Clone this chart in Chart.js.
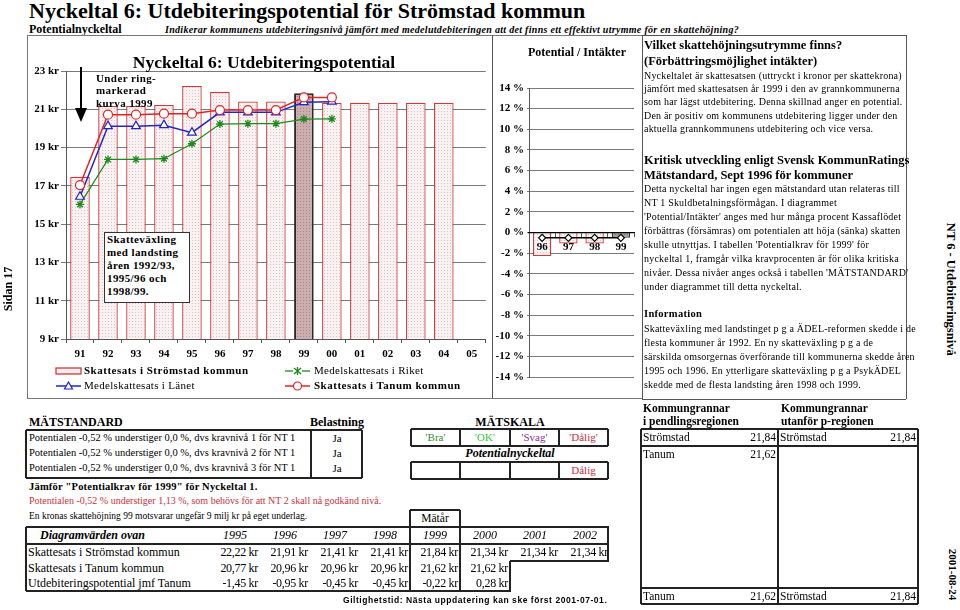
<!DOCTYPE html>
<html>
<head>
<meta charset="utf-8">
<script src="https://cdn.jsdelivr.net/npm/chart.js@4.4.1/dist/chart.umd.min.js"></script>
<style>
  body { margin: 0; width: 960px; height: 610px; position: relative; background: #fff; overflow: hidden;
         font-family: "Liberation Serif", "Times New Roman", serif; color: #000; }
  .t { position: absolute; white-space: nowrap; line-height: 1; }
  .ln { position: absolute; background: #000; }
  canvas { position: absolute; }
</style>
</head>
<body>
<canvas id="main" width="465" height="362" style="left:27px;top:36px"></canvas>
<canvas id="pot" width="148" height="362" style="left:492px;top:36px"></canvas>

<script>
// main chart: tax rate per year (kr per skattekrona)
const years = ['91', '92', '93', '94', '95', '96', '97', '98', '99', '00', '01', '02', '03', '04', '05'];
const markYear = '99';
const stromstad = [17.47, 21.17, 21.17, 21.22, 22.22, 21.91, 21.41, 21.41, 21.84, 21.34, 21.34, 21.34, 21.34, 21.34, null];
const tanum = [17.04, 20.72, 20.72, 20.77, 20.77, 20.96, 20.96, 20.96, 21.62, 21.62, null, null, null, null, null];
const lanet = [16.43, 20.12, 20.12, 20.17, 19.78, 20.84, 20.84, 20.84, 21.37, 21.40, null, null, null, null, null];
const riket = [16.03, 18.38, 18.38, 18.42, 19.20, 20.23, 20.25, 20.25, 20.49, 20.50, null, null, null, null, null];

// small chart: potential / intäkter (%)
const potYears = ['96', '97', '98', '99'];
const potValues = [-2.27, -1.07, -1.07, -0.52];
const potLevel = [-0.52, -0.52, -0.52, -0.52];

// table below the chart
const tableYears = ['1995', '1996', '1997', '1998', '1999', '2000', '2001', '2002'];

const SERIF = 'Liberation Serif';
const body = document.body;

function T(x, y, s, fs, css, align) {
  const d = document.createElement('div');
  d.className = 't';
  d.textContent = s;
  d.style.left = x + 'px';
  d.style.top = (y - 0.55 * fs) + 'px';
  d.style.fontSize = fs + 'px';
  if (css) d.style.cssText += css;
  if (align === 'r') d.style.transform = 'translateX(-100%)';
  if (align === 'c') d.style.transform = 'translateX(-50%)';
  body.appendChild(d);
  return d;
}
function L(x1, y1, x2, y2, w, c) {
  const d = document.createElement('div');
  d.className = 'ln';
  w = w || 1;
  if (y1 === y2) { d.style.left = x1 + 'px'; d.style.top = (y1 - w / 2) + 'px'; d.style.width = (x2 - x1) + 'px'; d.style.height = w + 'px'; }
  else { d.style.left = (x1 - w / 2) + 'px'; d.style.top = y1 + 'px'; d.style.width = w + 'px'; d.style.height = (y2 - y1) + 'px'; }
  if (c) d.style.background = c;
  body.appendChild(d);
}
function R(x1, y1, x2, y2, w, c) {
  L(x1, y1, x2, y1, w, c); L(x1, y2, x2, y2, w, c);
  L(x1, y1, x1, y2, w, c); L(x2, y1, x2, y2, w, c);
}
function kr(v) { return v.toFixed(2).replace('.', ',') + ' kr'; }

function dots(ctx, bg, fg) {
  const c = document.createElement('canvas');
  c.width = 3; c.height = 3;
  const g = c.getContext('2d');
  g.fillStyle = bg; g.fillRect(0, 0, 3, 3);
  g.fillStyle = fg; g.fillRect(0, 0, 1, 1);
  return ctx.createPattern(c, 'repeat');
}

const mainCtx = document.getElementById('main').getContext('2d');
const lightFill = dots(mainCtx, '#f8f2f2', '#dcc4c4');
const darkFill = dots(mainCtx, '#cdaeae', '#a98686');
const tickFont = { family: SERIF, size: 11, weight: 'bold' };

new Chart(mainCtx, {
  data: {
    labels: years,
    datasets: [
      {
        type: 'line', label: 'Skattesats i Tanum kommun', data: tanum, order: 1,
        borderColor: '#e02424', borderWidth: 1.5, pointStyle: 'circle', pointRadius: 4.5,
        pointBackgroundColor: '#fff', pointBorderColor: '#e02424', pointBorderWidth: 1.2
      },
      {
        type: 'line', label: 'Medelskattesats i Länet', data: lanet, order: 2,
        borderColor: '#2424c8', borderWidth: 1.5, pointStyle: 'triangle', pointRadius: 5,
        pointBackgroundColor: '#fff', pointBorderColor: '#2424c8', pointBorderWidth: 1.2
      },
      {
        type: 'line', label: 'Medelskattesats i Riket', data: riket, order: 3,
        borderColor: '#1c8a1c', borderWidth: 1.2, pointStyle: 'star', pointRadius: 4,
        pointBackgroundColor: '#fff', pointBorderColor: '#1c8a1c', pointBorderWidth: 1.3
      },
      {
        type: 'bar', label: 'Skattesats i Strömstad kommun', data: stromstad, order: 4,
        backgroundColor: c => years[c.dataIndex] === markYear ? darkFill : lightFill,
        borderColor: c => years[c.dataIndex] === markYear ? '#2a2a2a' : '#d23a3a',
        borderWidth: c => years[c.dataIndex] === markYear ? 2 : 1.3,
        barPercentage: 0.7, categoryPercentage: 1
      }
    ]
  },
  options: {
    responsive: false, animation: false,
    layout: { padding: { left: 0, right: 6, top: 35, bottom: 0 } },
    plugins: { legend: { display: false }, tooltip: { enabled: false } },
    scales: {
      x: {
        offset: true,
        grid: { drawOnChartArea: false, offset: true, tickLength: 4, color: '#555' },
        border: { color: '#555' },
        ticks: { color: '#000', font: tickFont, padding: 5, maxRotation: 0, autoSkip: false },
        afterFit: s => { s.height = 59; }
      },
      y: {
        min: 9, max: 23,
        grid: { color: '#7a7a7a', tickLength: 5 },
        border: { color: '#555' },
        ticks: { stepSize: 2, color: '#000', font: tickFont, padding: 2, callback: v => v + ' kr' },
        afterFit: s => { s.width = 39; }
      }
    }
  }
});

const potCtx = document.getElementById('pot').getContext('2d');
const potLight = dots(potCtx, '#f8f2f2', '#dcc4c4');
const potDark = dots(potCtx, '#a89c9c', '#857878');

new Chart(potCtx, {
  data: {
    labels: potYears,
    datasets: [
      {
        type: 'line', data: potLevel, order: 1,
        borderColor: '#000', borderWidth: 1.5, pointStyle: 'rectRot', pointRadius: 3.5,
        pointBackgroundColor: '#fff', pointBorderColor: '#000', pointBorderWidth: 1.2
      },
      {
        type: 'bar', data: potValues, order: 2,
        backgroundColor: c => potYears[c.dataIndex] === markYear ? potDark : potLight,
        borderColor: c => potYears[c.dataIndex] === markYear ? '#333' : '#d23a3a',
        borderWidth: 1.3, barPercentage: 0.7, categoryPercentage: 1
      }
    ]
  },
  options: {
    responsive: false, animation: false,
    layout: { padding: { left: 0, right: 6, top: 52, bottom: 21 } },
    plugins: { legend: { display: false }, tooltip: { enabled: false } },
    scales: {
      x: {
        position: { y: 0 }, offset: true,
        grid: { drawOnChartArea: false, offset: true, tickLength: 4, color: '#555' },
        border: { color: '#000', width: 1.2, z: 2 },
        ticks: { color: '#000', font: tickFont, padding: 4, maxRotation: 0, autoSkip: false, z: 2 }
      },
      y: {
        min: -14, max: 14,
        grid: { color: '#7a7a7a', tickLength: 2 },
        border: { color: '#555' },
        ticks: { stepSize: 2, color: '#000', font: tickFont, padding: 3, callback: v => v + ' %' },
        afterFit: s => { s.width = 37; }
      }
    }
  }
});

// ---- header
T(29, 12, 'Nyckeltal 6: Utdebiteringspotential för Strömstad kommun', 22, 'font-weight:bold');
T(29, 30, 'Potentialnyckeltal', 12, 'font-weight:bold');
T(165, 30, 'Indikerar kommunens utdebiteringsnivå jämfört med medelutdebiteringen att det finns ett effektivt utrymme för en skattehöjning?', 10, 'font-weight:bold;font-style:italic;letter-spacing:0.3px');

// frames
L(27, 35, 642, 35, 1, '#777');
L(27, 398, 642, 398, 1, '#777');
L(27, 35, 27, 398, 1, '#777');
L(492, 35, 492, 398, 1, '#555');
R(642, 35, 906, 399, 1, '#555');

// main chart overlays
T(264, 64, 'Nyckeltal 6: Utdebiteringspotential', 17.5, 'font-weight:bold', 'c');
const arrow = document.createElementNS('http://www.w3.org/2000/svg', 'svg');
arrow.setAttribute('width', '20'); arrow.setAttribute('height', '60');
arrow.style.cssText = 'position:absolute;left:71px;top:66px';
arrow.innerHTML = '<line x1="10" y1="1" x2="10" y2="44" stroke="#000" stroke-width="2"/><polygon points="4,42 16,42 10,56" fill="#000"/>';
body.appendChild(arrow);
['Under ring-', 'markerad', 'kurva 1999'].forEach((s, i) => T(96, 79 + i * 12.5, s, 11, 'font-weight:bold;letter-spacing:0.4px'));

const box = document.createElement('div');
box.style.cssText = 'position:absolute;left:104px;top:232px;width:86px;height:71px;background:#fff;border:1px solid #333;box-sizing:border-box';
body.appendChild(box);
['Skatteväxling', 'med landsting', 'åren 1992/93,', '1995/96 och', '1998/99.'].forEach((s, i) => T(107, 240 + i * 13, s, 11, 'font-weight:bold;letter-spacing:0.4px'));

// legend
function swatch(x, y, svg) {
  const e = document.createElementNS('http://www.w3.org/2000/svg', 'svg');
  e.setAttribute('width', '28'); e.setAttribute('height', '12');
  e.style.cssText = 'position:absolute;left:' + x + 'px;top:' + (y - 6) + 'px';
  e.innerHTML = svg;
  body.appendChild(e);
}
swatch(55, 371, '<rect x="1" y="3" width="25" height="6" fill="#f4eded" stroke="#d23a3a" stroke-width="1.3"/>');
T(84, 371, 'Skattesats i Strömstad kommun', 11, 'font-weight:bold;letter-spacing:0.5px');
swatch(55, 386, '<line x1="1" y1="6" x2="26" y2="6" stroke="#2424c8" stroke-width="1.5"/><polygon points="13.5,2 17.5,9 9.5,9" fill="#fff" stroke="#2424c8" stroke-width="1.2"/>');
T(84, 386, 'Medelskattesats i Länet', 11, 'letter-spacing:0.3px');
swatch(284, 371, '<line x1="1" y1="6" x2="26" y2="6" stroke="#1c8a1c" stroke-width="1.3"/><rect x="9" y="2" width="9" height="8" fill="#fff"/><path d="M10 3 L17 9 M17 3 L10 9 M13.5 2 L13.5 10" stroke="#1c8a1c" stroke-width="1.3"/>');
T(314, 371, 'Medelskattesats i Riket', 11, 'letter-spacing:0.3px');
swatch(284, 386, '<line x1="1" y1="6" x2="26" y2="6" stroke="#e02424" stroke-width="1.5"/><circle cx="13.5" cy="6" r="4" fill="#fff" stroke="#e02424" stroke-width="1.2"/>');
T(314, 386, 'Skattesats i Tanum kommun', 11, 'font-weight:bold;letter-spacing:0.5px');

// small chart title
T(577, 53, 'Potential / Intäkter', 12, 'font-weight:bold', 'c');

// ---- right text box
const tb = 'font-weight:bold';
const para = 'letter-spacing:0.2px';
T(644, 46, 'Vilket skattehöjningsutrymme finns?', 12.5, tb);
T(644, 62, '(Förbättringsmöjlighet intäkter)', 12.5, tb);
['Nyckeltalet är skattesatsen (uttryckt i kronor per skattekrona)',
 'jämfört med skattesatsen år 1999 i den av grannkommunerna',
 'som har lägst utdebitering. Denna skillnad anger en potential.',
 'Den är positiv om kommunens utdebitering ligger under den',
 'aktuella grannkommunens utdebitering och vice versa.'
].forEach((s, i) => T(644, 76 + i * 13.4, s, 10, para));
T(644, 161, 'Kritisk utveckling enligt Svensk KommunRatings', 12.5, tb);
T(644, 176, 'Mätstandard, Sept 1996 för kommuner', 12.5, tb);
['Detta nyckeltal har ingen egen mätstandard utan relateras till',
 'NT 1 Skuldbetalningsförmågan. I diagrammet',
 '\'Potential/Intäkter\' anges med hur många procent Kassaflödet',
 'förbättras (försämras) om potentialen att höja (sänka) skatten',
 'skulle utnyttjas. I tabellen \'Potentialkrav för 1999\' för',
 'nyckeltal 1, framgår vilka kravprocenten är för olika kritiska',
 'nivåer. Dessa nivåer anges också i tabellen \'MÄTSTANDARD\'',
 'under diagrammet till detta nyckeltal.'
].forEach((s, i) => T(644, 189 + i * 14, s, 10, para));
T(644, 315, 'Information', 10.5, tb + ';letter-spacing:0.3px');
['Skatteväxling med landstinget p g a ÄDEL-reformen skedde i de',
 'flesta kommuner år 1992. En ny skatteväxling p g a de',
 'särskilda omsorgernas överförande till kommunerna skedde åren',
 '1995 och 1996. En ytterligare skatteväxling p g a PsykÄDEL',
 'skedde med de flesta landsting åren 1998 och 1999.'
].forEach((s, i) => T(644, 329 + i * 14, s, 10, para));

// side labels
T(8, 290, 'Sidan 17', 12, 'font-weight:bold;transform:translate(-50%,0) rotate(-90deg)');
T(951, 290, 'NT 6 - Utdebiteringsnivå', 12.5, 'font-weight:bold;transform:translate(-50%,0) rotate(90deg)');
T(952, 575, '2001-08-24', 11, 'font-weight:bold;transform:translate(-50%,0) rotate(90deg)');

// ---- MÄTSTANDARD
T(29, 423, 'MÄTSTANDARD', 12, tb);
T(337, 423, 'Belastning', 12, tb, 'c');
R(26, 430, 362, 478, 1.5, '#222');
L(311, 430, 311, 478, 1.5, '#222');
[1, 2, 3].forEach((n, i) => {
  T(29, 439 + i * 15, 'Potentialen -0,52 % understiger 0,0 %, dvs kravnivå ' + n + ' för NT 1', 10.5);
  T(337, 439 + i * 15, 'Ja', 11, '', 'c');
});
T(29, 488, 'Jämför "Potentialkrav för 1999" för Nyckeltal 1.', 10.5, tb + ';letter-spacing:0.2px');
T(29, 501, 'Potentialen -0,52 % understiger 1,13 %, som behövs för att NT 2 skall nå godkänd nivå.', 10, 'color:#c8323c');
T(29, 517, 'En kronas skattehöjning 99 motsvarar ungefär 9 milj kr på eget underlag.', 9.5);

// MÄTSKALA
T(510, 423, 'MÄTSKALA', 12, tb, 'c');
const scaleX = [411, 460, 510, 559, 608];
[[429, 446], [462, 479]].forEach(r => {
  R(411, r[0], 608, r[1], 1.5, '#222');
  [460, 510, 559].forEach(x => L(x, r[0], x, r[1], 1.5, '#222'));
});
const scaleLbl = [['\'Bra\'', '#2f8f2f'], ['\'OK\'', '#2ecc2e'], ['\'Svag\'', '#8a2f9a'], ['\'Dålig\'', '#c8323c']];
scaleLbl.forEach((c, i) => T((scaleX[i] + scaleX[i + 1]) / 2, 438, c[0], 11, 'color:' + c[1], 'c'));
T(510, 454, 'Potentialnyckeltal', 12, 'font-weight:bold;font-style:italic', 'c');
T((scaleX[3] + scaleX[4]) / 2, 471, 'Dålig', 11, 'color:#c8323c', 'c');

// ---- Diagramvärden table
R(410, 510, 460, 527, 1.5, '#222');
T(435, 519, 'Mätår', 11.5, '', 'c');
L(26, 527, 609, 527, 2, '#222');
L(26, 544, 609, 544, 2, '#222');
L(26, 527, 26, 591, 2, '#222');
L(608, 527, 608, 561, 2, '#222');
L(510, 561, 609, 561, 2, '#222');
L(510, 561, 510, 591, 1.5, '#222');
L(26, 591, 511, 591, 2, '#222');
L(410, 527, 410, 591, 1.2, '#222');
L(460, 527, 460, 591, 1.2, '#222');
T(40, 536, 'Diagramvärden ovan', 12, 'font-weight:bold;font-style:italic');
const rowLbl = ['Skattesats i Strömstad kommun', 'Skattesats i Tanum kommun', 'Utdebiteringspotential jmf Tanum'];
rowLbl.forEach((s, i) => T(28, 553 + i * 15.5, s, 12));
tableYears.forEach((y, i) => {
  const right = 260 + i * 50;
  T(right - 25, 536, y, 12, 'font-style:italic', 'c');
  const k = years.indexOf(y.slice(2));
  if (stromstad[k] != null) T(right - 2, 553, kr(stromstad[k]), 12, 'letter-spacing:-0.3px', 'r');
  if (tanum[k] != null) {
    T(right - 2, 568.5, kr(tanum[k]), 12, 'letter-spacing:-0.3px', 'r');
    T(right - 2, 584, kr(tanum[k] - stromstad[k]), 12, 'letter-spacing:-0.3px', 'r');
  }
});
T(343, 601, 'Giltighetstid: Nästa uppdatering kan ske först 2001-07-01.', 8.5, 'font-family:"Liberation Sans",Arial,sans-serif;font-weight:bold;letter-spacing:0.55px');

// ---- Kommungrannar
T(643, 409, 'Kommungrannar', 11.5, tb);
T(643, 422, 'i pendlingsregionen', 11.5, tb);
T(781, 409, 'Kommungrannar', 11.5, tb);
T(781, 422, 'utanför p-regionen', 11.5, tb);
R(641, 429, 918, 604, 1.5, '#222');
L(778, 429, 778, 604, 1.5, '#222');
L(641, 446, 918, 446, 1.5, '#222');
L(641, 588, 918, 588, 1.5, '#222');
T(643, 438, 'Strömstad', 11.5); T(776, 438, '21,84', 11.5, '', 'r');
T(780, 438, 'Strömstad', 11.5); T(916, 438, '21,84', 11.5, '', 'r');
T(643, 455, 'Tanum', 11.5); T(776, 455, '21,62', 11.5, '', 'r');
T(643, 597, 'Tanum', 11.5); T(776, 597, '21,62', 11.5, '', 'r');
T(780, 597, 'Strömstad', 11.5); T(916, 597, '21,84', 11.5, '', 'r');
</script>
</body>
</html>
